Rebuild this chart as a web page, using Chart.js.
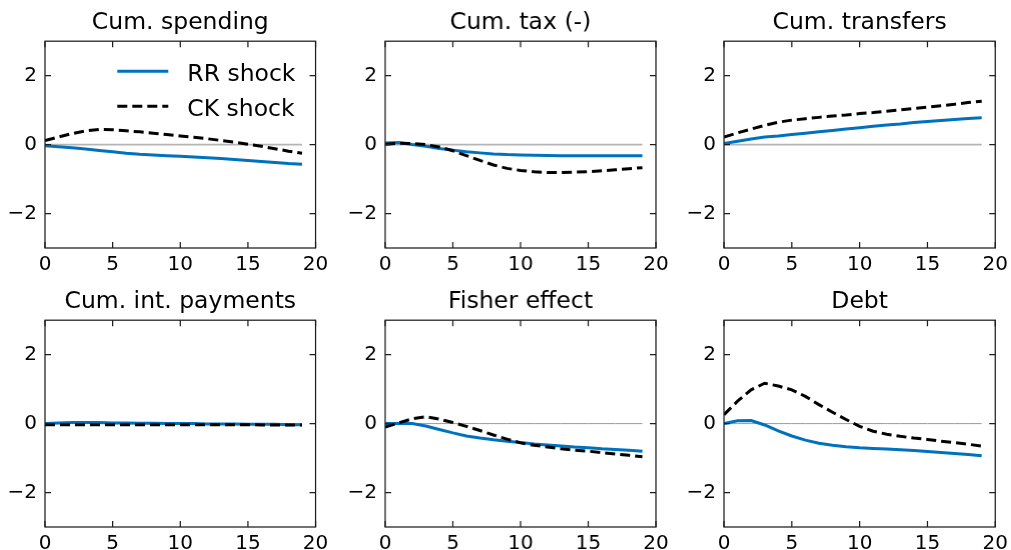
<!DOCTYPE html>
<html><head><meta charset="utf-8">
<script src="https://cdn.jsdelivr.net/npm/chart.js@4.4.1/dist/chart.umd.min.js"></script>
<style>
html,body{margin:0;padding:0;background:#fff;width:1011px;height:550px;overflow:hidden;position:relative;}
.p{position:absolute;}
</style></head><body>
<script>
// ---------- data ----------
const horizon = [0,1,2,3,4,5,6,7,8,9,10,11,12,13,14,15,16,17,18,19];
const panelTitles = ['Cum. spending','Cum. tax (-)','Cum. transfers','Cum. int. payments','Fisher effect','Debt'];
const seriesNames = ['RR shock','CK shock'];
const xTickValues = [0,5,10,15,20];
const yTickValues = [-2,0,2];
const zeroLine = [0,0,0,0,0,0,0,0,0,0,0,0,0,0,0,0,0,0,0,0];

const rrSpending = [-0.03,-0.06,-0.09,-0.13,-0.17,-0.21,-0.25,-0.28,-0.30,-0.32,-0.34,-0.36,-0.38,-0.40,-0.43,-0.46,-0.49,-0.52,-0.55,-0.57];
const ckSpending = [0.12,0.22,0.32,0.40,0.44,0.43,0.40,0.37,0.33,0.29,0.25,0.21,0.17,0.12,0.07,0.01,-0.05,-0.12,-0.19,-0.25];

const rrTax = [0.05,0.06,0.00,-0.05,-0.11,-0.16,-0.21,-0.24,-0.27,-0.29,-0.30,-0.31,-0.315,-0.32,-0.32,-0.32,-0.32,-0.32,-0.32,-0.32];
const ckTax = [0.01,0.04,0.03,0.00,-0.07,-0.18,-0.32,-0.46,-0.59,-0.69,-0.75,-0.79,-0.81,-0.81,-0.80,-0.79,-0.76,-0.73,-0.70,-0.67];

const rrTransfers = [0.03,0.10,0.16,0.22,0.25,0.29,0.33,0.37,0.41,0.45,0.49,0.53,0.57,0.60,0.64,0.67,0.70,0.73,0.76,0.78];
const ckTransfers = [0.22,0.34,0.45,0.56,0.65,0.71,0.75,0.79,0.83,0.86,0.90,0.93,0.97,1.01,1.05,1.09,1.13,1.17,1.22,1.26];

const rrInterest = [0.00,0.02,0.03,0.03,0.03,0.02,0.02,0.01,0.01,0.00,0.00,0.00,-0.01,-0.01,-0.01,-0.02,-0.02,-0.02,-0.03,-0.03];
const ckInterest = [-0.03,-0.03,-0.03,-0.03,-0.03,-0.03,-0.03,-0.03,-0.03,-0.03,-0.03,-0.03,-0.03,-0.03,-0.03,-0.03,-0.04,-0.04,-0.04,-0.04];

const rrFisher = [0.00,0.00,0.00,-0.07,-0.17,-0.27,-0.36,-0.42,-0.47,-0.51,-0.55,-0.59,-0.62,-0.65,-0.68,-0.70,-0.73,-0.75,-0.77,-0.80];
const ckFisher = [-0.10,0.02,0.14,0.20,0.13,0.03,-0.08,-0.20,-0.33,-0.45,-0.56,-0.63,-0.68,-0.73,-0.77,-0.80,-0.84,-0.88,-0.92,-0.96];

const rrDebt = [0.00,0.08,0.09,-0.04,-0.21,-0.36,-0.48,-0.57,-0.63,-0.67,-0.70,-0.72,-0.74,-0.76,-0.78,-0.81,-0.84,-0.87,-0.90,-0.93];
const ckDebt = [0.26,0.65,0.98,1.17,1.09,0.98,0.79,0.55,0.33,0.12,-0.08,-0.22,-0.31,-0.37,-0.42,-0.46,-0.51,-0.55,-0.60,-0.65];

const rrSeries = [rrSpending, rrTax, rrTransfers, rrInterest, rrFisher, rrDebt];
const ckSeries = [ckSpending, ckTax, ckTransfers, ckInterest, ckFisher, ckDebt];

// ---------- layout ----------
const FONT = "'DejaVu Sans', 'Liberation Sans', sans-serif";
const BLUE = '#0072BD';
const colLeft = [45, 385, 724.3];
const colWidth = [273.3, 272.7, 274];
const rowTop = [0, 279];
const AXW = 45, PADR = 15, CANVAS_H = 272, XAXIS_H = 24;

Chart.defaults.color = '#000';
Chart.defaults.font.family = FONT;

const frameTicks = {
  id: 'frameTicks',
  afterDatasetsDraw(chart) {
    const {ctx, chartArea: a, scales: {x, y}} = chart;
    const L = 6;
    ctx.save();
    ctx.strokeStyle = '#1e1e1e';
    ctx.lineWidth = 1.25;
    ctx.beginPath();
    xTickValues.forEach(v => {
      const px = x.getPixelForValue(v);
      ctx.moveTo(px, a.bottom); ctx.lineTo(px, a.bottom - L);
      ctx.moveTo(px, a.top); ctx.lineTo(px, a.top + L);
    });
    yTickValues.forEach(v => {
      const py = y.getPixelForValue(v);
      ctx.moveTo(a.left, py); ctx.lineTo(a.left + L, py);
      ctx.moveTo(a.right, py); ctx.lineTo(a.right - L, py);
    });
    ctx.stroke();
    ctx.strokeRect(a.left, a.top, a.right - a.left, a.bottom - a.top);
    ctx.restore();
  }
};

const insideLegend = {
  id: 'insideLegend',
  afterDatasetsDraw(chart, args, opts) {
    if (!opts || !opts.show) return;
    const {ctx, chartArea: a} = chart;
    const entries = seriesNames.map(n => chart.data.datasets.find(d => d.label === n));
    ctx.save();
    entries.forEach((d, i) => {
      const yLine = a.top + 30 + i * 35;
      ctx.beginPath();
      ctx.strokeStyle = d.borderColor;
      ctx.lineWidth = d.borderWidth;
      ctx.setLineDash(d.borderDash || []);
      ctx.moveTo(a.left + 72.3, yLine);
      ctx.lineTo(a.left + 123.3, yLine);
      ctx.stroke();
      ctx.setLineDash([]);
      ctx.fillStyle = '#000';
      ctx.font = '23.5px ' + FONT;
      ctx.textBaseline = 'alphabetic';
      ctx.textAlign = 'left';
      ctx.fillText(d.label, a.left + 142.3, yLine + 9.6);
    });
    ctx.restore();
  }
};

function pts(arr) { return arr.map((v, i) => ({x: horizon[i], y: v})); }

for (let k = 0; k < 6; k++) {
  const r = Math.floor(k / 3), c = k % 3;
  const div = document.createElement('div');
  div.className = 'p';
  const w = AXW + colWidth[c] + PADR;
  div.style.left = (colLeft[c] - AXW) + 'px';
  div.style.top = rowTop[r] + 'px';
  div.style.width = w + 'px';
  div.style.height = CANVAS_H + 'px';
  const cv = document.createElement('canvas');
  div.appendChild(cv);
  document.body.appendChild(div);

  new Chart(cv, {
    type: 'line',
    data: {
      datasets: [
        {label: seriesNames[1], data: pts(ckSeries[k]), borderColor: '#000', borderWidth: 3, borderDash: [10, 5], pointRadius: 0, fill: false, tension: 0},
        {label: seriesNames[0], data: pts(rrSeries[k]), borderColor: BLUE, borderWidth: 3, pointRadius: 0, fill: false, tension: 0},
        {label: 'zero', data: pts(zeroLine), borderColor: r === 0 ? '#b5b5b5' : '#9a9a9a', borderWidth: r === 0 ? 1.6 : 1.0, pointRadius: 0, fill: false}
      ]
    },
    options: {
      responsive: true,
      maintainAspectRatio: false,
      animation: false,
      devicePixelRatio: 1,
      layout: {padding: {left: 0, right: PADR, top: 0, bottom: 0}},
      plugins: {
        legend: {display: false},
        tooltip: {enabled: false},
        title: {
          display: true, text: panelTitles[k], fullSize: false,
          color: '#000', font: {size: 23.5, weight: 'normal', family: FONT, lineHeight: 1.2},
          padding: {top: 9, bottom: 4}
        },
        insideLegend: {show: k === 0}
      },
      scales: {
        x: {
          type: 'linear', min: 0, max: 20,
          grid: {display: false, drawTicks: false},
          border: {display: false},
          ticks: {font: {size: 20, family: FONT}, color: '#000', padding: 5, maxRotation: 0, autoSkip: false},
          afterBuildTicks(s) { s.ticks = xTickValues.map(v => ({value: v})); },
          afterFit(s) { s.height = XAXIS_H; }
        },
        y: {
          type: 'linear', min: -3, max: 3,
          grid: {display: false, drawTicks: false},
          border: {display: false},
          ticks: {font: {size: 20, family: FONT}, color: '#000', padding: 8,
                  callback: v => (v < 0 ? '\u2212' + Math.abs(v) : String(v))},
          afterBuildTicks(s) { s.ticks = yTickValues.map(v => ({value: v})); },
          afterFit(s) { s.width = AXW; }
        }
      }
    },
    plugins: [frameTicks, insideLegend]
  });
}
</script>
</body></html>
